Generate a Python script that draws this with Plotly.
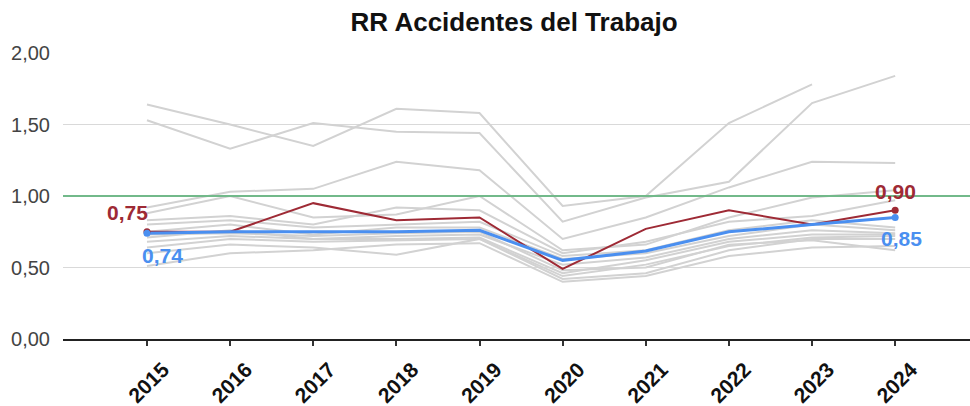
import plotly.graph_objects as go

years = [2015, 2016, 2017, 2018, 2019, 2020, 2021, 2022, 2023, 2024]
y_ticks = [0.0, 0.5, 1.0, 1.5, 2.0]
threshold = 1.0

red_vals = [0.75, 0.75, 0.95, 0.83, 0.85, 0.49, 0.77, 0.90, 0.80, 0.90]
blue_vals = [0.74, 0.75, 0.75, 0.75, 0.76, 0.55, 0.615, 0.75, 0.80, 0.85]

gray_1 = [1.64, 1.50, 1.35, 1.61, 1.58, 0.93, 1.00, 1.51, 1.78, None]
gray_2 = [1.53, 1.33, 1.51, 1.45, 1.44, 0.82, 0.99, 1.10, 1.65, 1.84]
gray_3 = [0.92, 1.03, 1.05, 1.24, 1.18, 0.70, 0.85, 1.06, 1.24, 1.23]
gray_4 = [0.88, 1.00, 0.85, 0.87, 1.00, 0.62, 0.66, 0.85, 0.99, 1.04]
gray_5 = [0.83, 0.86, 0.80, 0.92, 0.90, 0.60, 0.68, 0.82, 0.86, 0.97]
gray_6 = [0.80, 0.83, 0.78, 0.80, 0.82, 0.58, 0.62, 0.76, 0.83, 0.78]
gray_7 = [0.75, 0.80, 0.73, 0.78, 0.78, 0.56, 0.60, 0.72, 0.80, 0.76]
gray_8 = [0.71, 0.76, 0.70, 0.72, 0.73, 0.52, 0.57, 0.70, 0.76, 0.74]
gray_9 = [0.68, 0.72, 0.70, 0.70, 0.71, 0.46, 0.55, 0.68, 0.73, 0.73]
gray_10 = [0.64, 0.70, 0.68, 0.69, 0.70, 0.44, 0.52, 0.65, 0.71, 0.72]
gray_11 = [0.60, 0.66, 0.64, 0.59, 0.70, 0.42, 0.46, 0.62, 0.70, 0.70]
gray_12 = [0.51, 0.60, 0.62, 0.66, 0.67, 0.40, 0.44, 0.58, 0.64, 0.65]
gray_13 = [0.73, 0.74, 0.72, 0.74, 0.75, 0.48, 0.50, 0.66, 0.69, 0.62]
gray_series = [gray_1, gray_2, gray_3, gray_4, gray_5, gray_6, gray_7,
               gray_8, gray_9, gray_10, gray_11, gray_12, gray_13]

RED = "#9e2a35"
BLUE = "#4a8ff0"
GRAY = "#d2d2d2"
GREEN = "#72b98a"
FONT = "Arial, Liberation Sans, sans-serif"

fig = go.Figure()
for s in gray_series:
    fig.add_trace(go.Scatter(x=years, y=s, mode="lines",
                             line=dict(color=GRAY, width=2),
                             hoverinfo="skip", showlegend=False))

fig.add_shape(type="line", xref="paper", x0=0, x1=1, yref="y",
              y0=threshold, y1=threshold, line=dict(color=GREEN, width=2), layer="above")

def fmt(v):
    return f"{v:.2f}".replace(".", ",")

fig.add_trace(go.Scatter(x=years, y=red_vals, mode="lines",
                         line=dict(color=RED, width=2), showlegend=False))
fig.add_trace(go.Scatter(x=years, y=blue_vals, mode="lines",
                         line=dict(color=BLUE, width=3), showlegend=False))
fig.add_trace(go.Scatter(x=[years[0], years[-1]], y=[red_vals[0], red_vals[-1]],
                         mode="markers", marker=dict(color=RED, size=7), showlegend=False))
fig.add_trace(go.Scatter(x=[years[0], years[-1]], y=[blue_vals[0], blue_vals[-1]],
                         mode="markers", marker=dict(color=BLUE, size=7), showlegend=False))

lab_font = dict(family=FONT, size=21)
fig.add_annotation(x=years[0], y=red_vals[0], text=f"<b>{fmt(red_vals[0])}</b>",
                   showarrow=False, xshift=-19, yshift=19, font=dict(color=RED, **lab_font))
fig.add_annotation(x=years[0], y=blue_vals[0], text=f"<b>{fmt(blue_vals[0])}</b>",
                   showarrow=False, xshift=16, yshift=-22, font=dict(color=BLUE, **lab_font))
fig.add_annotation(x=years[-1], y=red_vals[-1], text=f"<b>{fmt(red_vals[-1])}</b>",
                   showarrow=False, xshift=0, yshift=19, font=dict(color=RED, **lab_font))
fig.add_annotation(x=years[-1], y=blue_vals[-1], text=f"<b>{fmt(blue_vals[-1])}</b>",
                   showarrow=False, xshift=6, yshift=-21, font=dict(color=BLUE, **lab_font))

fig.update_layout(
    width=970, height=406,
    margin=dict(l=63, r=0, t=53, b=67),
    plot_bgcolor="white", paper_bgcolor="white",
    separators=",.",
    title=dict(text="<b>RR Accidentes del Trabajo</b>", x=0.53, xanchor="center",
               y=0.945, yanchor="middle", font=dict(family=FONT, size=26, color="#111")),
    xaxis=dict(range=[2013.99, 2024.9], tickvals=years, ticktext=[f"<b>{y}</b>" for y in years],
               tickangle=-45, ticks="outside", ticklen=5, tickwidth=2, tickcolor="#333",
               showline=True, linecolor="#222", linewidth=2, showgrid=False, zeroline=False,
               ticklabelshift=16, ticklabelstandoff=3,
               tickfont=dict(family=FONT, size=21, color="#111")),
    yaxis=dict(range=[0, 2.0], tickvals=y_ticks, tickformat=".2f", showgrid=True,
               gridcolor="#d9d9d9", gridwidth=1, zeroline=False, showline=False,
               ticks="", ticklabelstandoff=12,
               tickfont=dict(family=FONT, size=20, color="#444")),
)

fig.write_html("out.html", config={"displayModeBar": False},
               post_script="document.body.style.margin='0';document.body.style.padding='0';")
